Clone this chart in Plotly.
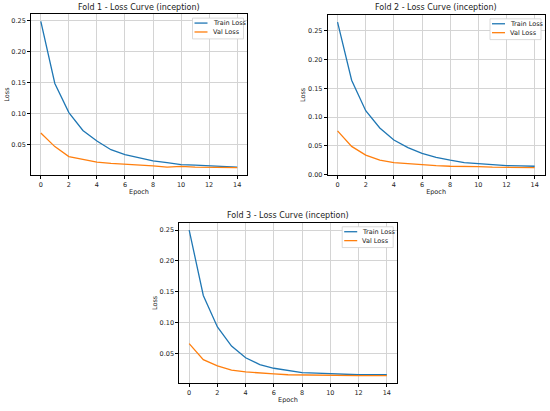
import plotly.graph_objects as go

# 每一折的训练/验证损失
epochs = list(range(15))

fold1_train = [0.249, 0.149, 0.102, 0.073, 0.056, 0.042, 0.034, 0.029, 0.024,
               0.021, 0.018, 0.017, 0.016, 0.015, 0.014]
fold1_val = [0.069, 0.047, 0.031, 0.027, 0.022, 0.020, 0.019, 0.017, 0.016,
             0.014, 0.015, 0.014, 0.0135, 0.013, 0.013]

fold2_train = [0.265, 0.164, 0.111, 0.081, 0.060, 0.047, 0.037, 0.030, 0.025,
               0.021, 0.019, 0.017, 0.0155, 0.015, 0.0145]
fold2_val = [0.076, 0.049, 0.034, 0.025, 0.021, 0.019, 0.017, 0.0155, 0.0145,
             0.0145, 0.014, 0.013, 0.0125, 0.0125, 0.012]

fold3_train = [0.250, 0.144, 0.093, 0.062, 0.043, 0.032, 0.026, 0.022, 0.019,
               0.018, 0.017, 0.016, 0.0155, 0.0155, 0.0155]
fold3_val = [0.066, 0.040, 0.030, 0.023, 0.020, 0.018, 0.017, 0.0155, 0.015,
             0.0145, 0.0145, 0.014, 0.014, 0.014, 0.014]

titles = ['Fold 1 - Loss Curve (inception)',
          'Fold 2 - Loss Curve (inception)',
          'Fold 3 - Loss Curve (inception)']
series = [(fold1_train, fold1_val), (fold2_train, fold2_val), (fold3_train, fold3_val)]

W, H = 550, 411
BLUE, ORANGE = '#1f77b4', '#ff7f0e'
FONT = 'DejaVu Sans'
TXT = '#222222'


def px(x):
    return x / W


def py(y):
    return 1 - y / H


# 每个子图的绘图区（像素：左, 右, 上, 下）
boxes = [(31, 247, 14.3, 176.7),
         (327.7, 544.5, 15, 176.7),
         (179.3, 396.7, 225, 386.7)]

fig = go.Figure()
shapes, annos = [], []
layout = {}

for i, ((tr, va), (l, r, t, b), title) in enumerate(zip(series, boxes, titles)):
    n = '' if i == 0 else str(i + 1)
    fig.add_trace(go.Scatter(x=epochs, y=tr, mode='lines', name='Train Loss',
                             line=dict(color=BLUE, width=1.3),
                             xaxis='x' + n, yaxis='y' + n, showlegend=False))
    fig.add_trace(go.Scatter(x=epochs, y=va, mode='lines', name='Val Loss',
                             line=dict(color=ORANGE, width=1.3),
                             xaxis='x' + n, yaxis='y' + n, showlegend=False))

    # 仿照matplotlib的5%边距
    lo, hi = min(tr + va), max(tr + va)
    pad = (hi - lo) * 0.05
    common = dict(showline=True, mirror=True, linecolor='black', linewidth=0.8,
                  ticks='outside', ticklen=3, tickwidth=0.8, tickcolor='black',
                  showgrid=True, gridcolor='#d4d4d4', gridwidth=0.8, zeroline=False,
                  tickfont=dict(family=FONT, size=6.5, color=TXT))
    layout['xaxis' + n] = dict(common, domain=[px(l), px(r)], anchor='y' + n,
                               range=[-0.7, 14.7], dtick=2, tick0=0,
                               title=dict(text='Epoch', standoff=1,
                                          font=dict(family=FONT, size=6.5, color=TXT)))
    layout['yaxis' + n] = dict(common, domain=[py(b), py(t)], anchor='x' + n,
                               range=[lo - pad, hi + pad], dtick=0.05, tick0=0,
                               tickformat='.2f',
                               title=dict(text='Loss', standoff=1,
                                          font=dict(family=FONT, size=6.5, color=TXT)))

    annos.append(dict(text=title, x=px((l + r) / 2), y=py(t - 7),
                      xref='paper', yref='paper', showarrow=False,
                      xanchor='center', yanchor='middle',
                      font=dict(family=FONT, size=8, color=TXT)))

    # 右上角图例
    lx1 = r - 3.5
    lx0 = lx1 - 51
    ly0 = t + 4
    ly1 = ly0 + 21
    shapes.append(dict(type='rect', xref='paper', yref='paper',
                       x0=px(lx0), x1=px(lx1), y0=py(ly1), y1=py(ly0),
                       line=dict(color='#d0d0d0', width=0.8), fillcolor='white',
                       layer='above'))
    for k, (name, col) in enumerate([('Train Loss', BLUE), ('Val Loss', ORANGE)]):
        yy = ly0 + 5 + 9 * k
        shapes.append(dict(type='line', xref='paper', yref='paper',
                           x0=px(lx0 + 2), x1=px(lx0 + 15), y0=py(yy), y1=py(yy),
                           line=dict(color=col, width=1.3), layer='above'))
        annos.append(dict(text=name, x=px(lx0 + 18), y=py(yy),
                          xref='paper', yref='paper', showarrow=False,
                          xanchor='left', yanchor='middle',
                          font=dict(family=FONT, size=6.5, color=TXT)))

fig.update_layout(width=W, height=H, margin=dict(l=0, r=0, t=0, b=0),
                  plot_bgcolor='white', paper_bgcolor='white',
                  shapes=shapes, annotations=annos, **layout)

# 去掉页面body的默认边距，让图正好铺满窗口
fig.write_html('out.html', config={'displayModeBar': False},
               post_script="document.body.style.margin='0px';")
